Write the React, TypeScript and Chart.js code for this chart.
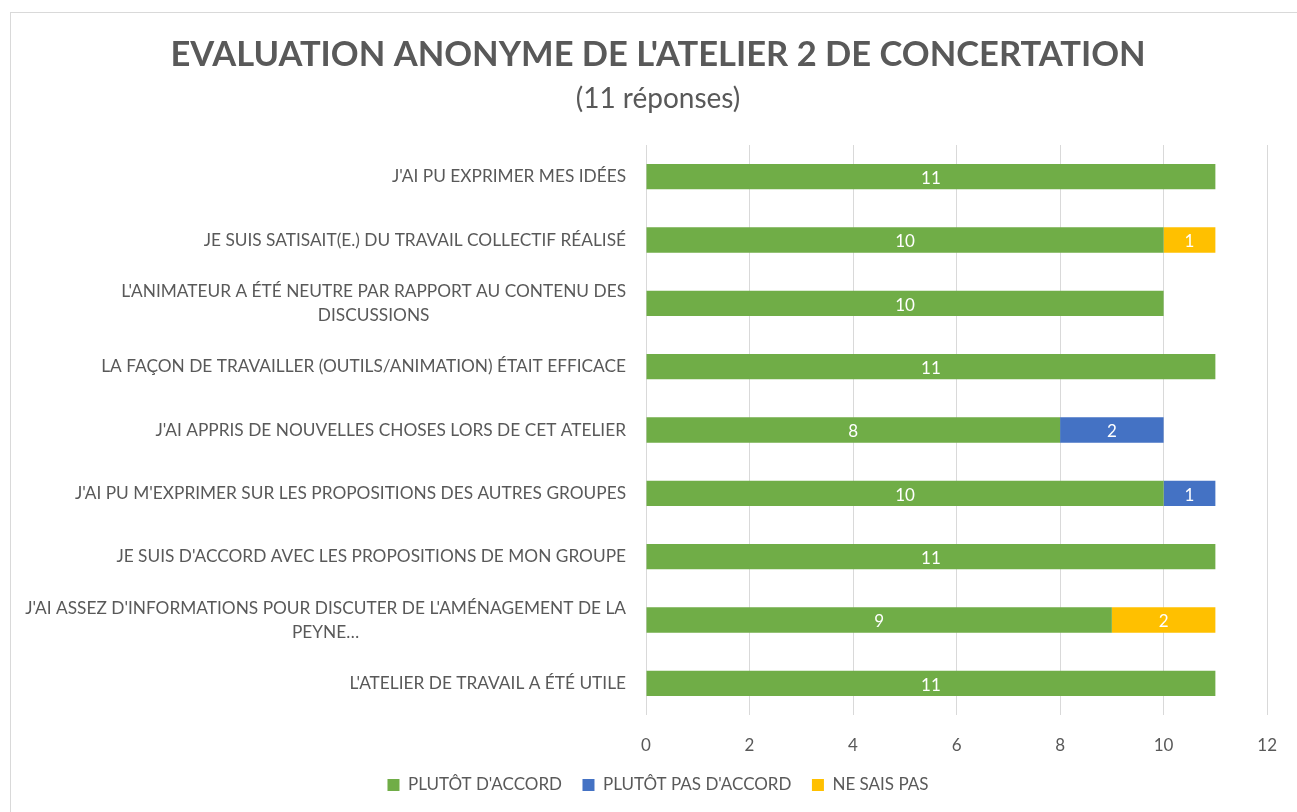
import React, { useEffect, useRef } from "react";
import { Chart, registerables } from "chart.js";

Chart.register(...registerables);

const FONT = "Lato, 'Open Sans', sans-serif";
const TEXT_COLOR = "#595959";

const titleText = "EVALUATION ANONYME DE L'ATELIER 2 DE CONCERTATION";
const subtitleText = "(11 réponses)";

const categories: (string | string[])[] = [
  "J'AI PU EXPRIMER MES IDÉES",
  "JE SUIS SATISAIT(E.) DU TRAVAIL COLLECTIF RÉALISÉ",
  ["L'ANIMATEUR A ÉTÉ NEUTRE PAR RAPPORT AU CONTENU DES", "DISCUSSIONS"],
  "LA FAÇON DE TRAVAILLER (OUTILS/ANIMATION) ÉTAIT EFFICACE",
  "J'AI APPRIS DE NOUVELLES CHOSES LORS DE CET ATELIER",
  "J'AI PU M'EXPRIMER SUR LES PROPOSITIONS DES AUTRES GROUPES",
  "JE SUIS D'ACCORD AVEC LES PROPOSITIONS DE MON GROUPE",
  ["J'AI ASSEZ D'INFORMATIONS POUR DISCUTER DE L'AMÉNAGEMENT DE LA", "PEYNE…"],
  "L'ATELIER DE TRAVAIL A ÉTÉ UTILE",
];

const seriesNames = ["PLUTÔT D'ACCORD", "PLUTÔT PAS D'ACCORD", "NE SAIS PAS"];
const seriesColors = ["#70AD47", "#4472C4", "#FFC000"];

const plutotDaccord = [11, 10, 10, 11, 8, 10, 11, 9, 11];
const plutotPasDaccord = [0, 0, 0, 0, 2, 1, 0, 0, 0];
const neSaisPas = [0, 1, 0, 0, 0, 0, 0, 2, 0];

const xMin = 0;
const xMax = 12;
const xStep = 2;

const yLabelPlugin = {
  id: "yLabelPlugin",
  afterDraw(chart: any) {
    const ctx = chart.ctx;
    const yScale = chart.scales.y;
    const right = chart.chartArea.left - 20;
    ctx.save();
    ctx.font = `17.3px ${FONT}`;
    ctx.fillStyle = TEXT_COLOR;
    ctx.textBaseline = "middle";
    const lh = 24;
    (chart.data.labels as (string | string[])[]).forEach((lab, i) => {
      const lines = Array.isArray(lab) ? lab : [lab];
      const cy = yScale.getPixelForTick(i);
      const widest = Math.max(...lines.map((l) => ctx.measureText(l).width));
      lines.forEach((l, j) => {
        const ly = cy + (j - (lines.length - 1) / 2) * lh;
        if (lines.length === 1) {
          ctx.textAlign = "right";
          ctx.fillText(l, right, ly);
        } else {
          ctx.textAlign = "center";
          ctx.fillText(l, right - widest / 2, ly);
        }
      });
    });
    ctx.restore();
  },
};

const dataLabelPlugin = {
  id: "dataLabelPlugin",
  afterDatasetsDraw(chart: any) {
    const ctx = chart.ctx;
    ctx.save();
    ctx.font = `17px ${FONT}`;
    ctx.fillStyle = "#FFFFFF";
    ctx.textAlign = "center";
    ctx.textBaseline = "middle";
    chart.data.datasets.forEach((ds: any, di: number) => {
      const meta = chart.getDatasetMeta(di);
      meta.data.forEach((bar: any, i: number) => {
        const v = ds.data[i];
        if (!v) return;
        const { x, y, base } = bar.getProps(["x", "y", "base"], true);
        ctx.fillText(String(v), (x + base) / 2, y + 2);
      });
    });
    ctx.restore();
  },
};

export default function App() {
  const canvasRef = useRef<HTMLCanvasElement | null>(null);

  useEffect(() => {
    if (!canvasRef.current) return;
    const chart = new Chart(canvasRef.current, {
      type: "bar",
      data: {
        labels: categories,
        datasets: [plutotDaccord, plutotPasDaccord, neSaisPas].map((d, i) => ({
          label: seriesNames[i],
          data: d,
          backgroundColor: seriesColors[i],
          borderWidth: 0,
          barPercentage: 0.4,
          categoryPercentage: 1,
        })),
      },
      options: {
        responsive: false,
        animation: false,
        indexAxis: "y",
        layout: { padding: { left: 44, right: 25, top: 12, bottom: 8.5 } },
        plugins: {
          title: {
            display: true,
            text: titleText,
            color: TEXT_COLOR,
            font: { family: FONT, size: 34.5, weight: "bold" },
            padding: { top: 22, bottom: 7 },
          },
          subtitle: {
            display: true,
            text: subtitleText,
            color: TEXT_COLOR,
            font: { family: FONT, size: 28 },
            padding: { top: 0, bottom: 29 },
          },
          legend: {
            position: "bottom",
            labels: {
              boxWidth: 12,
              boxHeight: 12,
              padding: 20.5,
              color: TEXT_COLOR,
              font: { family: FONT, size: 17 },
            },
          },
          tooltip: { enabled: false },
        },
        scales: {
          x: {
            stacked: true,
            min: xMin,
            max: xMax,
            ticks: {
              stepSize: xStep,
              color: TEXT_COLOR,
              font: { family: FONT, size: 17 },
              padding: 20,
            },
            grid: { color: "#D9D9D9", drawTicks: false },
            border: { display: false },
            afterFit: (s: any) => {
              s.height = 41;
            },
          },
          y: {
            stacked: true,
            ticks: { display: false },
            grid: { display: false },
            border: { display: false },
            afterFit: (s: any) => {
              s.width = 602;
            },
          },
        },
      },
      plugins: [yLabelPlugin, dataLabelPlugin],
    } as any);
    return () => chart.destroy();
  }, []);

  return (
    <div
      style={{
        position: "fixed",
        left: 0,
        top: 0,
        width: 1297,
        height: 812,
        overflow: "hidden",
        background: "#FFFFFF",
      }}
    >
      <div
        style={{
          position: "absolute",
          left: 10,
          top: 12,
          width: 1300,
          height: 820,
          border: "1px solid #D9D9D9",
        }}
      />
      <canvas
        ref={canvasRef}
        width={1297}
        height={812}
        style={{ position: "absolute", left: 0, top: 0, width: 1297, height: 812 }}
      />
    </div>
  );
}
